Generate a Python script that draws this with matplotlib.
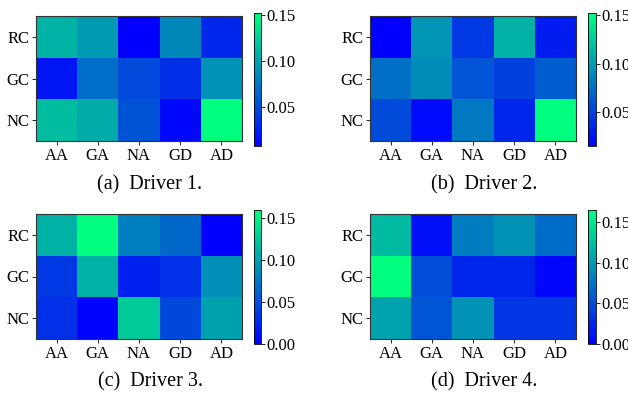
import matplotlib
matplotlib.use("Agg")
import matplotlib.pyplot as plt
import numpy as np

plt.rcParams['font.family'] = ['Liberation Serif', 'DejaVu Serif']
plt.rcParams['mathtext.fontset'] = 'stix'

cols = ["AA", "GA", "NA", "GD", "AD"]
rows = ["RC", "GC", "NC"]

driver1 = [[0.110, 0.095, 0.008, 0.085, 0.030],
           [0.020, 0.070, 0.050, 0.035, 0.090],
           [0.115, 0.105, 0.055, 0.012, 0.1525]]
driver2 = [[0.0145, 0.095, 0.045, 0.110, 0.030],
           [0.075, 0.090, 0.060, 0.050, 0.065],
           [0.055, 0.020, 0.080, 0.035, 0.1524]]
driver3 = [[0.110, 0.159, 0.080, 0.065, 0.000],
           [0.035, 0.110, 0.020, 0.030, 0.090],
           [0.030, 0.002, 0.125, 0.045, 0.100]]
driver4 = [[0.120, 0.010, 0.080, 0.095, 0.070],
           [0.165, 0.050, 0.025, 0.025, 0.005],
           [0.105, 0.055, 0.095, 0.035, 0.035]]

captions = ["(a)  Driver 1.", "(b)  Driver 2.", "(c)  Driver 3.", "(d)  Driver 4."]
datas = [driver1, driver2, driver3, driver4]
cbar_ticks = [[0.05, 0.10, 0.15], [0.05, 0.10, 0.15],
              [0.00, 0.05, 0.10, 0.15], [0.00, 0.05, 0.10, 0.15]]
cbar_vmin = [None, None, 0.0, 0.0]

W, H = 628, 396
fig = plt.figure(figsize=(W / 100, H / 100), dpi=100)

# pixel boxes (left, top, right, bottom)
ax_boxes = [(36, 16, 242, 141), (370, 16, 576, 141),
            (36, 214, 242, 339), (370, 214, 576, 339)]
cb_boxes = [(254, 13, 261, 146), (588, 13, 596, 146),
            (254, 210, 261, 344), (588, 210, 596, 344)]
cap_pos = [(150, 185), (484, 185), (150, 382), (484, 382)]

def rect(b):
    l, t, r, bt = b
    return [l / W, 1 - bt / H, (r - l) / W, (bt - t) / H]

for i in range(4):
    d = np.array(datas[i])
    ax = fig.add_axes(rect(ax_boxes[i]))
    im = ax.imshow(d, cmap='winter', aspect='auto', interpolation='nearest',
                   vmin=cbar_vmin[i] if cbar_vmin[i] is not None else d.min(),
                   vmax=d.max())
    ax.set_xticks(range(len(cols)))
    ax.set_xticklabels(cols, fontsize=12)
    ax.set_yticks(range(len(rows)))
    ax.set_yticklabels(rows, fontsize=12)
    ax.tick_params(length=3, width=0.6, pad=2)
    for s in ax.spines.values():
        s.set_linewidth(0.8)
        s.set_color('#333333')
    cax = fig.add_axes(rect(cb_boxes[i]))
    cb = fig.colorbar(im, cax=cax)
    cb.set_ticks(cbar_ticks[i])
    cb.set_ticklabels([f"{t:.2f}" for t in cbar_ticks[i]])
    cb.ax.tick_params(labelsize=12, length=3, width=0.6, pad=1)
    cb.outline.set_linewidth(0.6)
    x, y = cap_pos[i]
    fig.text(x / W, 1 - y / H, captions[i], ha='center', va='center', fontsize=14.5)

fig.savefig("out.png", dpi=100)
